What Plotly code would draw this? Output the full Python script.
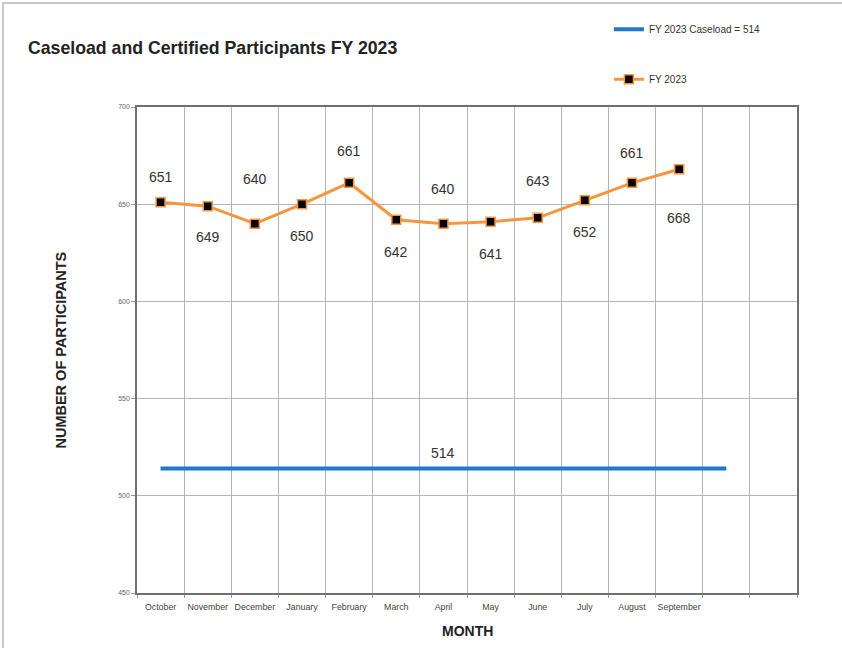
import plotly.graph_objects as go

months = ["October", "November", "December", "January", "February", "March",
          "April", "May", "June", "July", "August", "September"]
blank_slots = [" ", "  "]
fy2023 = [651, 649, 640, 650, 661, 642, 640, 641, 643, 652, 661, 668]
caseload_value = 514
caseload_points = 13
y_ticks = [450, 500, 550, 600, 650, 700]

categories = months + blank_slots
caseload_x = categories[:caseload_points]
caseload_y = [caseload_value] * caseload_points

# label offsets (pixels, negative = above the point) - styling only
label_shift = [-25, 31, -45, 32, -32, 32, -35, 32, -37, 32, -30, 49]

FONT = "Liberation Sans, Arial, sans-serif"

fig = go.Figure()
fig.add_trace(go.Scatter(
    x=caseload_x, y=caseload_y, mode="lines",
    name="FY 2023 Caseload = 514",
    line=dict(color="#1f78c8", width=4),
    legendgroup="a",
))
fig.add_trace(go.Scatter(
    x=months, y=fy2023, mode="lines+markers",
    name="FY 2023",
    line=dict(color="#f7953f", width=3),
    marker=dict(symbol="square", size=9, color="black",
                line=dict(color="#f7953f", width=1.5)),
    legendgroup="b",
))

annotations = []
for m, v, s in zip(months, fy2023, label_shift):
    annotations.append(dict(
        x=m, y=v, xref="x", yref="y", text=str(v), showarrow=False,
        yshift=-s, font=dict(family=FONT, size=14, color="#333333")))
annotations.append(dict(
    x=months[6], y=caseload_value, xref="x", yref="y", text=str(caseload_value),
    showarrow=False, yshift=16, font=dict(family=FONT, size=14, color="#333333")))
annotations.append(dict(
    x=0.5, y=-0.078, xref="paper", yref="paper", yanchor="middle",
    text="<b>MONTH</b>", showarrow=False,
    font=dict(family=FONT, size=14, color="#222222")))
annotations.append(dict(
    x=-0.131, y=0.5, xref="paper", yref="paper", textangle=-90,
    text="<b>NUMBER OF PARTICIPANTS</b>", showarrow=False,
    font=dict(family=FONT, size=14.5, color="#222222")))

fig.update_layout(
    width=842, height=648,
    margin=dict(l=137, r=45, t=107, b=55),
    paper_bgcolor="white", plot_bgcolor="white",
    title=dict(text="<b>Caseload and Certified Participants FY 2023</b>",
               x=28 / 842, xanchor="left", y=1 - 48 / 648, yanchor="middle",
               font=dict(family=FONT, size=17.7, color="#222222")),
    font=dict(family=FONT, color="#333333"),
    showlegend=True,
    legend=dict(x=0.715, xanchor="left", y=1.19, yanchor="top",
                font=dict(family=FONT, size=10, color="#333333"),
                tracegroupgap=31, traceorder="grouped",
                bgcolor="rgba(0,0,0,0)"),
    annotations=annotations,
    xaxis=dict(type="category", categoryorder="array", categoryarray=categories,
               range=[-0.5, len(categories) - 0.5],
               tickson="boundaries", showgrid=True, gridcolor="#b5b5b5", gridwidth=1,
               showline=True, linecolor="#707070", linewidth=1.5, mirror=True,
               ticks="outside", ticklen=3, tickcolor="#9a9a9a", tickangle=0,
               ticklabelstandoff=5,
               tickfont=dict(family=FONT, size=8.8, color="#444444"),
               zeroline=False, fixedrange=True),
    yaxis=dict(range=[450, 700], tickvals=y_ticks,
               showgrid=True, gridcolor="#b5b5b5", gridwidth=1,
               showline=True, linecolor="#707070", linewidth=1.5, mirror=True,
               ticks="outside", ticklen=4, tickcolor="#9a9a9a",
               tickfont=dict(family=FONT, size=7, color="#666666"),
               zeroline=False, fixedrange=True),
    shapes=[dict(type="rect", xref="paper", yref="paper",
                 x0=(3 - 137) / 660, x1=(850 - 137) / 660,
                 y0=(593 - 660) / 486, y1=(593 - 3) / 486,
                 line=dict(color="#c8c8c8", width=2), layer="below")],
)

fig.write_html("out.html", config={"displayModeBar": False},
               post_script="document.body.style.margin='0px';")
